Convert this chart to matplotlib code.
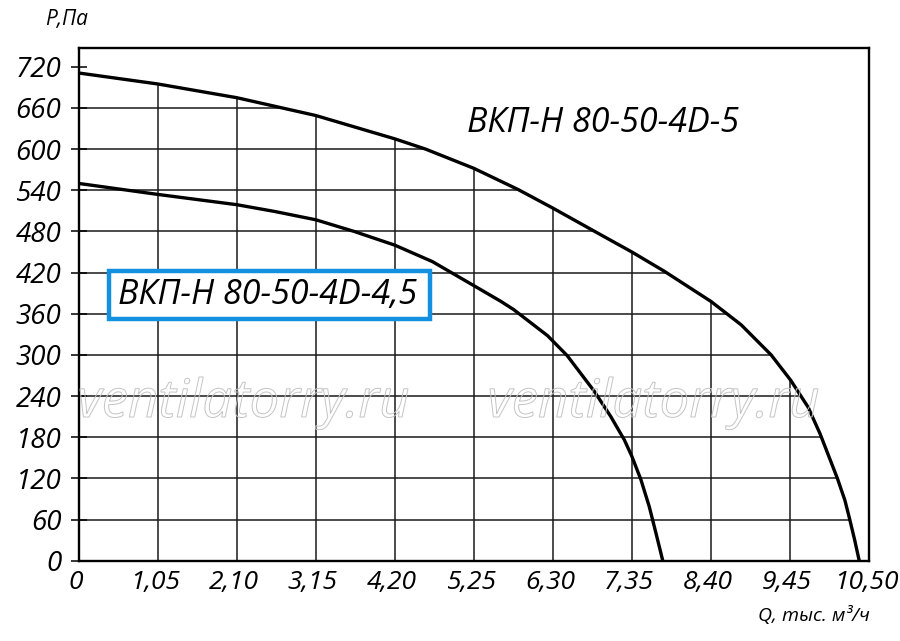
import matplotlib
matplotlib.use("Agg")
import matplotlib.pyplot as plt
from matplotlib.patches import Polygon, PathPatch, Rectangle
from matplotlib.textpath import TextPath
from matplotlib.font_manager import FontProperties
import matplotlib.transforms as mtransforms

plt.rcParams['font.family'] = ['Open Sans', 'DejaVu Sans']

# ---- data ----
x_ticks = [0, 1.05, 2.10, 3.15, 4.20, 5.25, 6.30, 7.35, 8.40, 9.45, 10.50]
x_tick_labels = ["0", "1,05", "2,10", "3,15", "4,20", "5,25", "6,30", "7,35", "8,40", "9,45", "10,50"]
y_ticks = [0, 60, 120, 180, 240, 300, 360, 420, 480, 540, 600, 660, 720]
y_tick_labels = [str(v) for v in y_ticks]

q_5 = [0, 1.05, 2.10, 3.15, 4.20, 4.61, 5.25, 5.84, 6.30, 6.84, 7.35, 7.78,
       8.40, 8.80, 9.20, 9.46, 9.69, 9.85, 10.08, 10.18, 10.24, 10.31, 10.37]
p_5 = [711, 695, 675, 649, 615, 600, 572, 541, 514, 481, 450, 422,
       378, 344, 300, 263, 224, 185, 120, 88, 62, 30, 0]

q_45 = [0, 1.05, 2.10, 2.61, 3.15, 3.66, 4.20, 4.70, 5.25, 5.61, 5.78, 6.23, 6.49,
        6.85, 7.07, 7.25, 7.35, 7.47, 7.58, 7.67, 7.76]
p_45 = [550, 534, 519, 509, 497, 480, 460, 436, 401, 378, 366, 328, 299,
        247, 210, 176, 152, 118, 79, 40, 0]

label_5 = "ВКП-Н 80-50-4D-5"
label_45 = "ВКП-Н 80-50-4D-4,5"
watermark = "ventilatorry.ru"

# ---- figure ----
fig = plt.figure(figsize=(9.0, 6.41), dpi=100)
ax = fig.add_axes([78.7 / 900, 1 - 560.7 / 641, (869 - 78.7) / 900, (560.7 - 48.3) / 641])
ax.set_xlim(0, 10.50)
ax.set_ylim(0, 747)

# clip region under the outer curve
clip_poly = Polygon(list(zip(q_5, p_5)) + [(q_5[-1], 0), (0, 0)], closed=True,
                    transform=ax.transData, facecolor='none', edgecolor='none')
ax.add_patch(clip_poly)

grid_kw = dict(color='#1a1a1a', lw=1.1, zorder=1)
for xv in x_ticks[1:-1]:
    ln, = ax.plot([xv, xv], [0, 747], **grid_kw)
    ln.set_clip_path(clip_poly)
for yv in y_ticks[1:]:
    ln, = ax.plot([0, 10.5], [yv, yv], **grid_kw)
    ln.set_clip_path(clip_poly)

ax.plot(q_5, p_5, color='black', lw=2.4, zorder=3, solid_joinstyle='round')
ax.plot(q_45, p_45, color='black', lw=2.4, zorder=3, solid_joinstyle='round')

ax.set_xticks(x_ticks)
ax.set_xticklabels(x_tick_labels)
ax.set_yticks(y_ticks)
ax.set_yticklabels(y_tick_labels)
ax.tick_params(axis='x', length=0, pad=7, labelsize=19)
ax.tick_params(axis='y', direction='inout', length=11, width=1.1, pad=7, labelsize=20)
for t in ax.get_xticklabels() + ax.get_yticklabels():
    t.set_fontstyle('italic')
# slight left shift of x labels (italic optical centring)
shift = mtransforms.ScaledTranslation(-3 / 100, 0, fig.dpi_scale_trans)
for t in ax.get_xticklabels():
    t.set_transform(t.get_transform() + shift)

for s in ax.spines.values():
    s.set_linewidth(1.7)
    s.set_zorder(4)

# curve labels
ax.text(0.663, 0.855, label_5, transform=ax.transAxes, fontsize=24.5, style='italic',
        ha='center', va='center', zorder=5)
ax.add_patch(Rectangle((0.0386, 0.4721), 0.4057, 0.0929, transform=ax.transAxes,
                       facecolor='white', edgecolor='#1490e0', lw=3.2, zorder=4))
ax.text(0.2395, 0.5185, label_45, transform=ax.transAxes, fontsize=24.5, style='italic',
        ha='center', va='center', zorder=5)

# axis labels
fig.text(45 / 900, 1 - 20 / 641, "Р,Па", fontsize=15, style='italic', ha='left', va='center')
fig.text(870 / 900, 1 - 615 / 641, "Q, тыс. м³/ч", fontsize=14, style='italic', ha='right', va='center')

# watermarks (outlined text)
fp = FontProperties(family='Open Sans', style='italic')
tp = TextPath((0, 0), watermark, size=50, prop=fp)
ext = tp.get_extents()
k = 328.0 / ext.width
for x0 in (80, 490):
    tr = mtransforms.Affine2D().translate(-ext.x0, 0).scale(k).translate(x0, 641 - 417)
    patch = PathPatch(tp, facecolor='none', edgecolor='#c4c4c4', lw=0.7,
                      transform=tr + mtransforms.IdentityTransform(), zorder=2)
    fig.add_artist(patch)

fig.savefig("out.png", dpi=100)
